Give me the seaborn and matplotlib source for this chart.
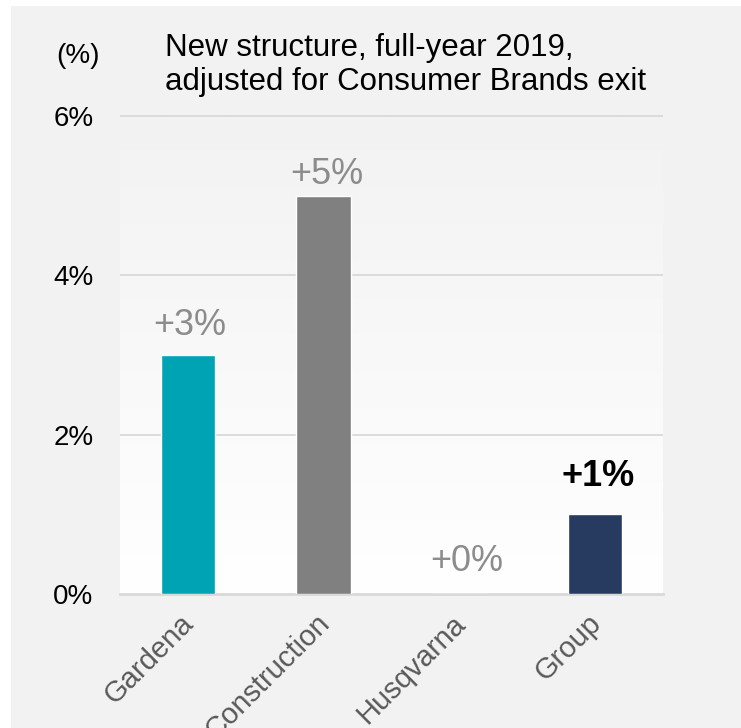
import numpy as np
import pandas as pd
import matplotlib
matplotlib.use("Agg")
import matplotlib.pyplot as plt
from matplotlib.patches import Rectangle
from matplotlib.colors import LinearSegmentedColormap
from matplotlib.transforms import ScaledTranslation
import seaborn as sns

categories = ["Gardena", "Construction", "Husqvarna", "Group"]
values = [3, 5, 0, 1]
labels = ["+3%", "+5%", "+0%", "+1%"]
bar_colors = ["#00A3B4", "#808080", "#808080", "#273A5F"]
label_colors = ["#8C8C8C", "#8C8C8C", "#8C8C8C", "#000000"]
label_weights = ["normal", "normal", "normal", "bold"]
label_offsets_pt = [14.4, 8.6, 16.6, 20.2]
label_dx_pt = [1, 2, 5, 2]
ytick_vals = [0, 2, 4, 6]
ytick_labels = ["0%", "2%", "4%", "6%"]
title_line1 = "New structure, full-year 2019,"
title_line2 = "adjusted for Consumer Brands exit"
unit_text = "(%)"

sns.set_style("white")
plt.rcParams["font.family"] = ["Liberation Sans", "DejaVu Sans"]

df = pd.DataFrame({"category": categories, "value": values})

W, H = 741, 728
fig = plt.figure(figsize=(W / 100, H / 100), dpi=100, facecolor="white")
fig.patches.append(Rectangle((11 / W, 0), 1, 1 - 6 / H, transform=fig.transFigure,
                             facecolor="#F2F2F2", edgecolor="none", zorder=-10))

ymax = 6.05
top_px = 116 - (ymax - 6) * (594 - 116) / 6
ax = fig.add_axes([120 / W, 1 - 594 / H, (663 - 120) / W, (594 - top_px) / H])
ax.set_facecolor("none")

# gradient background in plot area
grad = np.linspace(0, 1, 256).reshape(-1, 1)
cmap = LinearSegmentedColormap.from_list("g", ["#FFFFFF", "#F2F2F2"])
ax.imshow(grad, extent=[-0.5, 3.5, 0, ymax], origin="lower", aspect="auto",
          cmap=cmap, zorder=0)

sns.barplot(data=df, x="category", y="value", hue="category",
            palette=bar_colors, legend=False, width=0.4, ax=ax,
            saturation=1, zorder=3)

ax.set_xlim(-0.5, 3.5)
ax.set_ylim(0, ymax)
ax.set_yticks(ytick_vals)
ax.set_yticklabels(ytick_labels, fontsize=20, color="black")
ax.tick_params(axis="y", length=0, pad=19)
for y in ytick_vals[1:]:
    ax.axhline(y, color="#D9D9D9", lw=1.3, zorder=1)

ax.set_xticks(range(len(categories)))
ax.set_xticklabels(categories, fontsize=21, color="#595959", rotation=45,
                   ha="right", va="top", rotation_mode="anchor")
ax.tick_params(axis="x", which="major", length=0, pad=11)
shift = ScaledTranslation(-6 / 72, 0, fig.dpi_scale_trans)
for lab in ax.get_xticklabels():
    lab.set_transform(lab.get_transform() + shift)
ax.set_xticks(np.arange(-0.5, 4, 1), minor=True)
ax.tick_params(axis="x", which="minor", length=8, width=1.5, color="#D9D9D9",
               direction="out")
ax.set_xlabel("")
ax.set_ylabel("")

for s in ["top", "right", "left"]:
    ax.spines[s].set_visible(False)
ax.spines["bottom"].set_color("#D9D9D9")
ax.spines["bottom"].set_linewidth(2)

for i, (v, lab) in enumerate(zip(values, labels)):
    ax.annotate(lab, xy=(i, v), xytext=(label_dx_pt[i], label_offsets_pt[i]),
                textcoords="offset points", ha="center", va="baseline",
                fontsize=26, color=label_colors[i],
                fontweight=label_weights[i], zorder=5)

fig.text(165 / W, 1 - 56 / H, title_line1, fontsize=22.5, color="black",
         ha="left", va="baseline")
fig.text(165 / W, 1 - 90 / H, title_line2, fontsize=22.5, color="black",
         ha="left", va="baseline")
fig.text(56 / W, 1 - 63 / H, unit_text, fontsize=20, color="black",
         ha="left", va="baseline")

fig.savefig("out.png", dpi=100, facecolor="white")
